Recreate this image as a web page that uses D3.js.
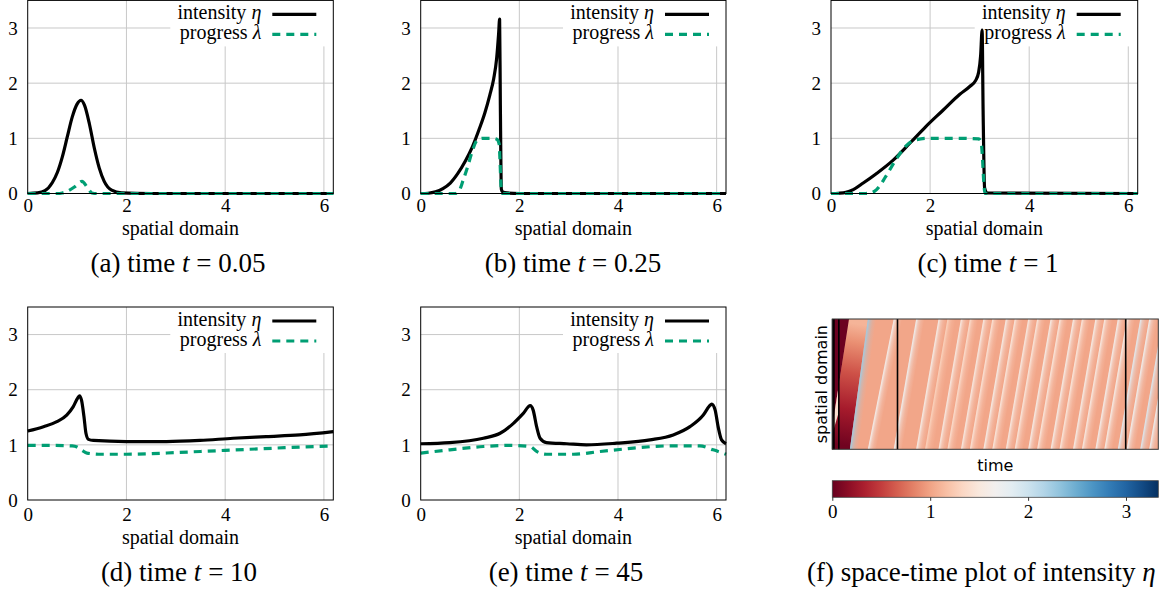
<!DOCTYPE html>
<html><head><meta charset="utf-8">
<script src="https://cdn.jsdelivr.net/npm/d3@7"></script>
<style>body{margin:0;background:#fff}svg{display:block}</style>
</head><body><svg id="c" width="1165" height="589"></svg>
<script>
// ---------------- data ----------------
const xTicks = [0, 2, 4, 6];
const yTicks = [0, 1, 2, 3];
const X_MAX = 6.19, Y_MAX = 3.5;

const aX   = [0, 0.2, 0.35, 0.5, 0.6, 0.7, 0.8, 0.9, 1.0, 1.08, 1.15, 1.25, 1.35, 1.45, 1.55, 1.7, 1.9, 2.5, 6.19];
const aEta = [0, 0.01, 0.05, 0.2, 0.38, 0.66, 1.02, 1.38, 1.62, 1.69, 1.6, 1.26, 0.82, 0.46, 0.22, 0.06, 0.01, 0, 0];
const aLX  = [0, 0.6, 0.7, 0.8, 0.95, 1.1, 1.2, 1.3, 1.4, 6.19];
const aLam = [0, 0, 0.01, 0.04, 0.12, 0.22, 0.12, 0.01, 0, 0];

const bX   = [0, 0.15, 0.3, 0.45, 0.6, 0.75, 0.9, 1.05, 1.2, 1.3, 1.4, 1.48, 1.54, 1.58, 1.6, 1.615, 1.635, 1.66, 1.75, 2, 6.19];
const bEta = [0, 0.005, 0.03, 0.09, 0.19, 0.36, 0.58, 0.85, 1.2, 1.46, 1.78, 2.08, 2.45, 2.9, 3.16, 1.6, 0.08, 0.03, 0.01, 0, 0];
const bLX  = [0, 0.7, 0.78, 0.86, 0.95, 1.05, 1.14, 1.25, 1.45, 1.55, 1.59, 1.61, 1.63, 1.66, 6.19];
const bLam = [0, 0, 0.05, 0.24, 0.48, 0.78, 0.96, 1.0, 1.0, 0.98, 0.9, 0.55, 0.12, 0, 0];

const cX   = [0, 0.15, 0.3, 0.45, 0.65, 0.9, 1.25, 1.6, 1.9, 2.25, 2.6, 2.8, 2.92, 2.98, 3.02, 3.05, 3.07, 3.1, 3.15, 6.19];
const cEta = [0, 0.005, 0.02, 0.07, 0.19, 0.35, 0.6, 0.92, 1.2, 1.5, 1.8, 1.94, 2.05, 2.2, 2.5, 2.96, 1.5, 0.1, 0.01, 0];
const cLX  = [0, 0.7, 0.8, 0.92, 1.1, 1.3, 1.5, 1.7, 1.95, 2.5, 2.98, 3.03, 3.06, 3.08, 3.11, 6.19];
const cLam = [0, 0, 0.01, 0.07, 0.3, 0.6, 0.85, 0.97, 1.0, 1.0, 0.99, 0.93, 0.6, 0.25, 0, 0];

const dX   = [0, 0.32, 0.59, 0.79, 0.92, 1.02, 1.05, 1.09, 1.14, 1.18, 1.23, 1.33, 2.0, 2.81, 3.49, 4.16, 4.83, 5.51, 6.19];
const dEta = [1.25, 1.33, 1.42, 1.54, 1.69, 1.86, 1.89, 1.81, 1.51, 1.21, 1.1, 1.08, 1.06, 1.06, 1.08, 1.12, 1.15, 1.18, 1.24];
const dLX  = [0, 0.5, 0.9, 1.0, 1.1, 1.2, 1.5, 2.0, 2.5, 3, 3.5, 4, 4.5, 5, 5.5, 6.19];
const dLam = [0.99, 0.99, 0.98, 0.96, 0.9, 0.85, 0.83, 0.83, 0.84, 0.86, 0.88, 0.9, 0.92, 0.94, 0.96, 0.98];

const eX   = [0, 0.59, 1.27, 1.61, 1.88, 2.08, 2.22, 2.28, 2.35, 2.42, 2.55, 2.96, 3.36, 3.97, 4.65, 5.12, 5.46, 5.73, 5.86, 5.9, 5.97, 6.03, 6.1, 6.19];
const eEta = [1.02, 1.04, 1.12, 1.21, 1.39, 1.57, 1.71, 1.63, 1.33, 1.12, 1.04, 1.02, 1.0, 1.03, 1.09, 1.18, 1.33, 1.54, 1.71, 1.74, 1.63, 1.33, 1.09, 1.02];
const eLX  = [0, 0.59, 1.27, 1.81, 2.22, 2.35, 2.55, 3.1, 3.64, 4.31, 4.99, 5.66, 5.93, 6.19];
const eLam = [0.85, 0.91, 0.97, 0.99, 0.97, 0.88, 0.83, 0.83, 0.88, 0.94, 0.98, 0.98, 0.91, 0.83];

const captionPrefix = ["(a) time ", "(b) time ", "(c) time ", "(d) time ", "(e) time "];
const captionTime   = ["0.05", "0.25", "1", "10", "45"];
const legendLabels  = ["intensity ", "progress "];
const legendSymbols = ["η", "λ"];

// space-time plot: path of the initial front, then the traveling fronts (time at x=0 -> time at x=2π)
const front1T = [0, 0.05, 0.25, 1, 2.56];
const front1X = [0.9, 1.1, 1.6, 3.1, 2 * Math.PI];
const pulseT  = [0, 0.05, 0.25, 1, 1, 0.25, 0.05, 0];
const pulseX  = [0.75, 0.8, 1.0, 1.8, 3.1, 1.6, 1.35, 1.25];
const stripeStart = [2.7, 5.45, 9.42, 12.86, 14.23, 16.29, 17.66, 19.73, 21.10, 23.17, 24.54, 26.61, 27.97, 30.04, 31.41, 33.48, 34.85, 36.92, 38.28, 40.35, 41.72, 43.79, 45.16, 47.23, 48.60];
const stripeEnd   = [5.45, 9.42, 12.86, 16.29, 17.66, 19.73, 21.10, 23.17, 24.54, 26.61, 27.97, 30.04, 31.41, 33.48, 34.85, 36.92, 38.28, 40.35, 41.72, 43.79, 45.16, 47.23, 48.60, 50.67, 52.04];
const stripePeak  = [2.25, 1.65, 1.7, 1.6, 1.3, 1.55, 1.4, 1.55, 1.45, 1.6, 1.5, 1.55, 1.5, 1.6, 1.5, 1.6, 1.5, 1.6, 1.55, 1.65, 1.6, 1.85, 1.7, 1.9, 1.75];
const backgroundEta = 1.02;
const markTimes = [0.05, 0.25, 1, 10, 45];
const cbarTicks = [0, 1, 2, 3];
const ETA_MAX = 3.33, T_MAX = 50;

// ---------------- layout ----------------
const svg = d3.select("#c");
svg.append("rect").attr("width", 1165).attr("height", 589).attr("fill", "#fff");
const defs = svg.append("defs");
const SERIF = "'Liberation Serif','Times New Roman',serif";
const SANS = "'DejaVu Sans',sans-serif";

const panels = [
  {l: 27.7, r: 333.3, t: 0.4, b: 193.5, cap: 178, row: 0, x: aX, eta: aEta, lx: aLX, lam: aLam},
  {l: 420.7, r: 726, t: 0.4, b: 193.5, cap: 573, row: 0, x: bX, eta: bEta, lx: bLX, lam: bLam},
  {l: 831, r: 1137.7, t: 0.4, b: 193.5, cap: 988, row: 0, x: cX, eta: cEta, lx: cLX, lam: cLam},
  {l: 27.7, r: 333.3, t: 307, b: 500, cap: 179, row: 1, x: dX, eta: dEta, lx: dLX, lam: dLam},
  {l: 420.7, r: 726, t: 307, b: 500, cap: 566, row: 1, x: eX, eta: eEta, lx: eLX, lam: eLam}
];
const rowText = [{tick: 212, lab: 234.5, cap: 272}, {tick: 521, lab: 543.5, cap: 581}];

panels.forEach((p, i) => {
  const xs = d3.scaleLinear().domain([0, X_MAX]).range([p.l, p.r]);
  const ys = d3.scaleLinear().domain([0, Y_MAX]).range([p.b, p.t]);
  const g = svg.append("g");
  g.selectAll(".gx").data(xTicks.filter(v => v > 0)).join("line")
    .attr("x1", d => xs(d)).attr("x2", d => xs(d)).attr("y1", p.b).attr("y2", p.t)
    .attr("stroke", "#c8c8c8").attr("stroke-width", 1);
  g.selectAll(".gy").data(yTicks.filter(v => v > 0)).join("line")
    .attr("y1", d => ys(d)).attr("y2", d => ys(d)).attr("x1", p.l).attr("x2", p.r)
    .attr("stroke", "#c8c8c8").attr("stroke-width", 1);
  g.append("rect").attr("x", p.r - 163).attr("y", p.t).attr("width", 163).attr("height", 46).attr("fill", "#fff");
  const line = d3.line().x(d => xs(d[0])).y(d => ys(d[1])).curve(d3.curveMonotoneX);
  g.append("path").attr("d", line(p.x.map((v, k) => [v, p.eta[k]])))
    .attr("fill", "none").attr("stroke", "#000").attr("stroke-width", 3.2).attr("stroke-linejoin", "round");
  g.append("path").attr("d", line(p.lx.map((v, k) => [v, p.lam[k]])))
    .attr("fill", "none").attr("stroke", "#009e73").attr("stroke-width", 3.2).attr("stroke-dasharray", "8,6");
  legendLabels.forEach((lab, k) => {
    const yb = p.t + 19 + 20 * k;
    const tx = g.append("text").attr("x", p.r - 72).attr("y", yb).attr("text-anchor", "end")
      .attr("font-family", SERIF).attr("font-size", 20).attr("fill", "#000");
    tx.append("tspan").text(lab);
    tx.append("tspan").attr("font-style", "italic").text(legendSymbols[k]);
    g.append("line").attr("x1", p.r - 61).attr("x2", p.r - 17).attr("y1", yb - 5).attr("y2", yb - 5)
      .attr("stroke", k === 0 ? "#000" : "#009e73").attr("stroke-width", 3.2)
      .attr("stroke-dasharray", k === 0 ? null : "8,6");
  });
  g.append("rect").attr("x", p.l).attr("y", p.t).attr("width", p.r - p.l).attr("height", p.b - p.t)
    .attr("fill", "none").attr("stroke", "#000").attr("stroke-width", 1);
  const rt = rowText[p.row];
  const ax = g.append("g").attr("transform", `translate(0,${p.b})`)
    .call(d3.axisBottom(xs).tickValues(xTicks).tickSize(0).tickFormat(d3.format("d")));
  ax.select(".domain").remove();
  ax.selectAll("text").attr("y", rt.tick - p.b).attr("dy", 0)
    .attr("font-family", SERIF).attr("font-size", 19).attr("fill", "#000");
  const ay = g.append("g").attr("transform", `translate(${p.l},0)`)
    .call(d3.axisLeft(ys).tickValues(yTicks).tickSize(0).tickFormat(d3.format("d")));
  ay.select(".domain").remove();
  ay.selectAll("text").attr("x", -10).attr("dy", "0.33em")
    .attr("font-family", SERIF).attr("font-size", 19).attr("fill", "#000");
  g.append("text").attr("x", (p.l + p.r) / 2).attr("y", rt.lab).attr("text-anchor", "middle")
    .attr("font-family", SERIF).attr("font-size", 20).text("spatial domain");
  const cap = g.append("text").attr("x", p.cap).attr("y", rt.cap).attr("text-anchor", "middle")
    .attr("font-family", SERIF).attr("font-size", 27);
  cap.append("tspan").text(captionPrefix[i]);
  cap.append("tspan").attr("font-style", "italic").text("t");
  cap.append("tspan").text(" = " + captionTime[i]);
});

// ---------------- space-time plot ----------------
const tS = d3.scaleLinear().domain([0, T_MAX]).range([832.3, 1158.3]);
const sS = d3.scaleLinear().domain([0, 2 * Math.PI]).range([449.3, 319]);
const cmap = v => d3.interpolateRdBu(Math.max(0, Math.min(1, v / ETA_MAX)));

defs.append("clipPath").attr("id", "hmclip").append("rect")
  .attr("x", tS(0)).attr("y", sS(2 * Math.PI)).attr("width", tS(T_MAX) - tS(0)).attr("height", sS(0) - sS(2 * Math.PI));
const hm = svg.append("g").attr("clip-path", "url(#hmclip)");
hm.append("rect").attr("x", tS(0)).attr("y", sS(2 * Math.PI)).attr("width", tS(T_MAX) - tS(0))
  .attr("height", sS(0) - sS(2 * Math.PI)).attr("fill", cmap(backgroundEta));

const P = (t, x) => [tS(t), sS(x)];
const f1 = front1T.map((t, k) => P(t, front1X[k]));
// region behind the first front and ahead of the second one
{
  const p0 = P(stripeStart[0], 0), p1 = P(stripeEnd[0], 2 * Math.PI);
  const a = P(1.6, 0.2), b = P(4.6, 6.0);
  const gr = defs.append("linearGradient").attr("id", "gR").attr("gradientUnits", "userSpaceOnUse")
    .attr("x1", a[0]).attr("y1", a[1]).attr("x2", b[0]).attr("y2", b[1]);
  [[0, 0.04], [0.3, 0.3], [0.6, 0.6], [0.85, 0.9], [1, 1.1]].forEach(s => gr.append("stop").attr("offset", s[0]).attr("stop-color", cmap(s[1])));
  const poly = [P(0, 0), p0, p1].concat(f1.slice().reverse());
  hm.append("path").attr("d", "M" + poly.join("L") + "Z").attr("fill", "url(#gR)");
}
// unburnt region ahead of the first front
{
  const poly = [P(0, 2 * Math.PI)].concat(f1.slice().reverse());
  hm.append("path").attr("d", "M" + poly.join("L") + "Z").attr("fill", cmap(0.02));
}
// initial pulse
{
  const poly = pulseT.map((t, k) => P(t, pulseX[k]));
  hm.append("path").attr("d", "M" + poly.join("L") + "Z").attr("fill", cmap(1.4));
}
// traveling fronts
const W = tS(1.3) - tS(0);
stripeStart.forEach((s, k) => {
  const b = P(s, 0), t = P(stripeEnd[k], 2 * Math.PI);
  const dx = t[0] - b[0], dy = t[1] - b[1], L = Math.hypot(dx, dy);
  const nx = -dy / L, ny = dx / L;
  const dist = W * nx;
  const id = "gs" + k;
  const gr = defs.append("linearGradient").attr("id", id).attr("gradientUnits", "userSpaceOnUse")
    .attr("x1", b[0]).attr("y1", b[1]).attr("x2", b[0] + nx * dist).attr("y2", b[1] + ny * dist);
  [[0, 1], [0.12, 0.8], [0.3, 0.45], [0.6, 0.18], [1, 0]].forEach(st =>
    gr.append("stop").attr("offset", st[0]).attr("stop-color", cmap(stripePeak[k])).attr("stop-opacity", st[1]));
  const poly = [b, t, [t[0] + W, t[1]], [b[0] + W, b[1]]];
  hm.append("path").attr("d", "M" + poly.join("L") + "Z").attr("fill", `url(#${id})`);
});
svg.append("g").selectAll("line").data(markTimes).join("line")
  .attr("x1", d => tS(d)).attr("x2", d => tS(d)).attr("y1", sS(2 * Math.PI)).attr("y2", sS(0))
  .attr("stroke", "#000").attr("stroke-width", 1.6);
svg.append("rect").attr("x", tS(0)).attr("y", sS(2 * Math.PI)).attr("width", tS(T_MAX) - tS(0))
  .attr("height", sS(0) - sS(2 * Math.PI)).attr("fill", "none").attr("stroke", "#333").attr("stroke-width", 1);
svg.append("text").attr("transform", `translate(821.5,${(sS(0) + sS(2 * Math.PI)) / 2}) rotate(-90)`)
  .attr("text-anchor", "middle").attr("dy", "0.35em").attr("font-family", SANS).attr("font-size", 16).text("spatial domain");
svg.append("text").attr("x", (tS(0) + tS(T_MAX)) / 2).attr("y", 471).attr("text-anchor", "middle")
  .attr("font-family", SANS).attr("font-size", 16).text("time");

// colorbar
const cS = d3.scaleLinear().domain([0, ETA_MAX]).range([832.3, 1158.3]);
const cg = defs.append("linearGradient").attr("id", "cbar");
d3.range(0, 1.0001, 0.05).forEach(o => cg.append("stop").attr("offset", o).attr("stop-color", d3.interpolateRdBu(o)));
svg.append("rect").attr("x", cS(0)).attr("y", 480.7).attr("width", cS(ETA_MAX) - cS(0)).attr("height", 16.6)
  .attr("fill", "url(#cbar)").attr("stroke", "#444").attr("stroke-width", 0.8);
const cax = svg.append("g").attr("transform", "translate(0,497.3)")
  .call(d3.axisBottom(cS).tickValues(cbarTicks).tickSize(3.5).tickFormat(d3.format("d")));
cax.select(".domain").remove();
cax.selectAll("line").attr("stroke", "#333");
cax.selectAll("text").attr("y", 20.7).attr("dy", 0).attr("font-family", SERIF).attr("font-size", 19).attr("fill", "#000");

const capF = svg.append("text").attr("x", 807).attr("y", 581).attr("font-family", SERIF).attr("font-size", 27);
capF.append("tspan").text("(f) space-time plot of intensity ");
capF.append("tspan").attr("font-style", "italic").text("η");
</script></body></html>
